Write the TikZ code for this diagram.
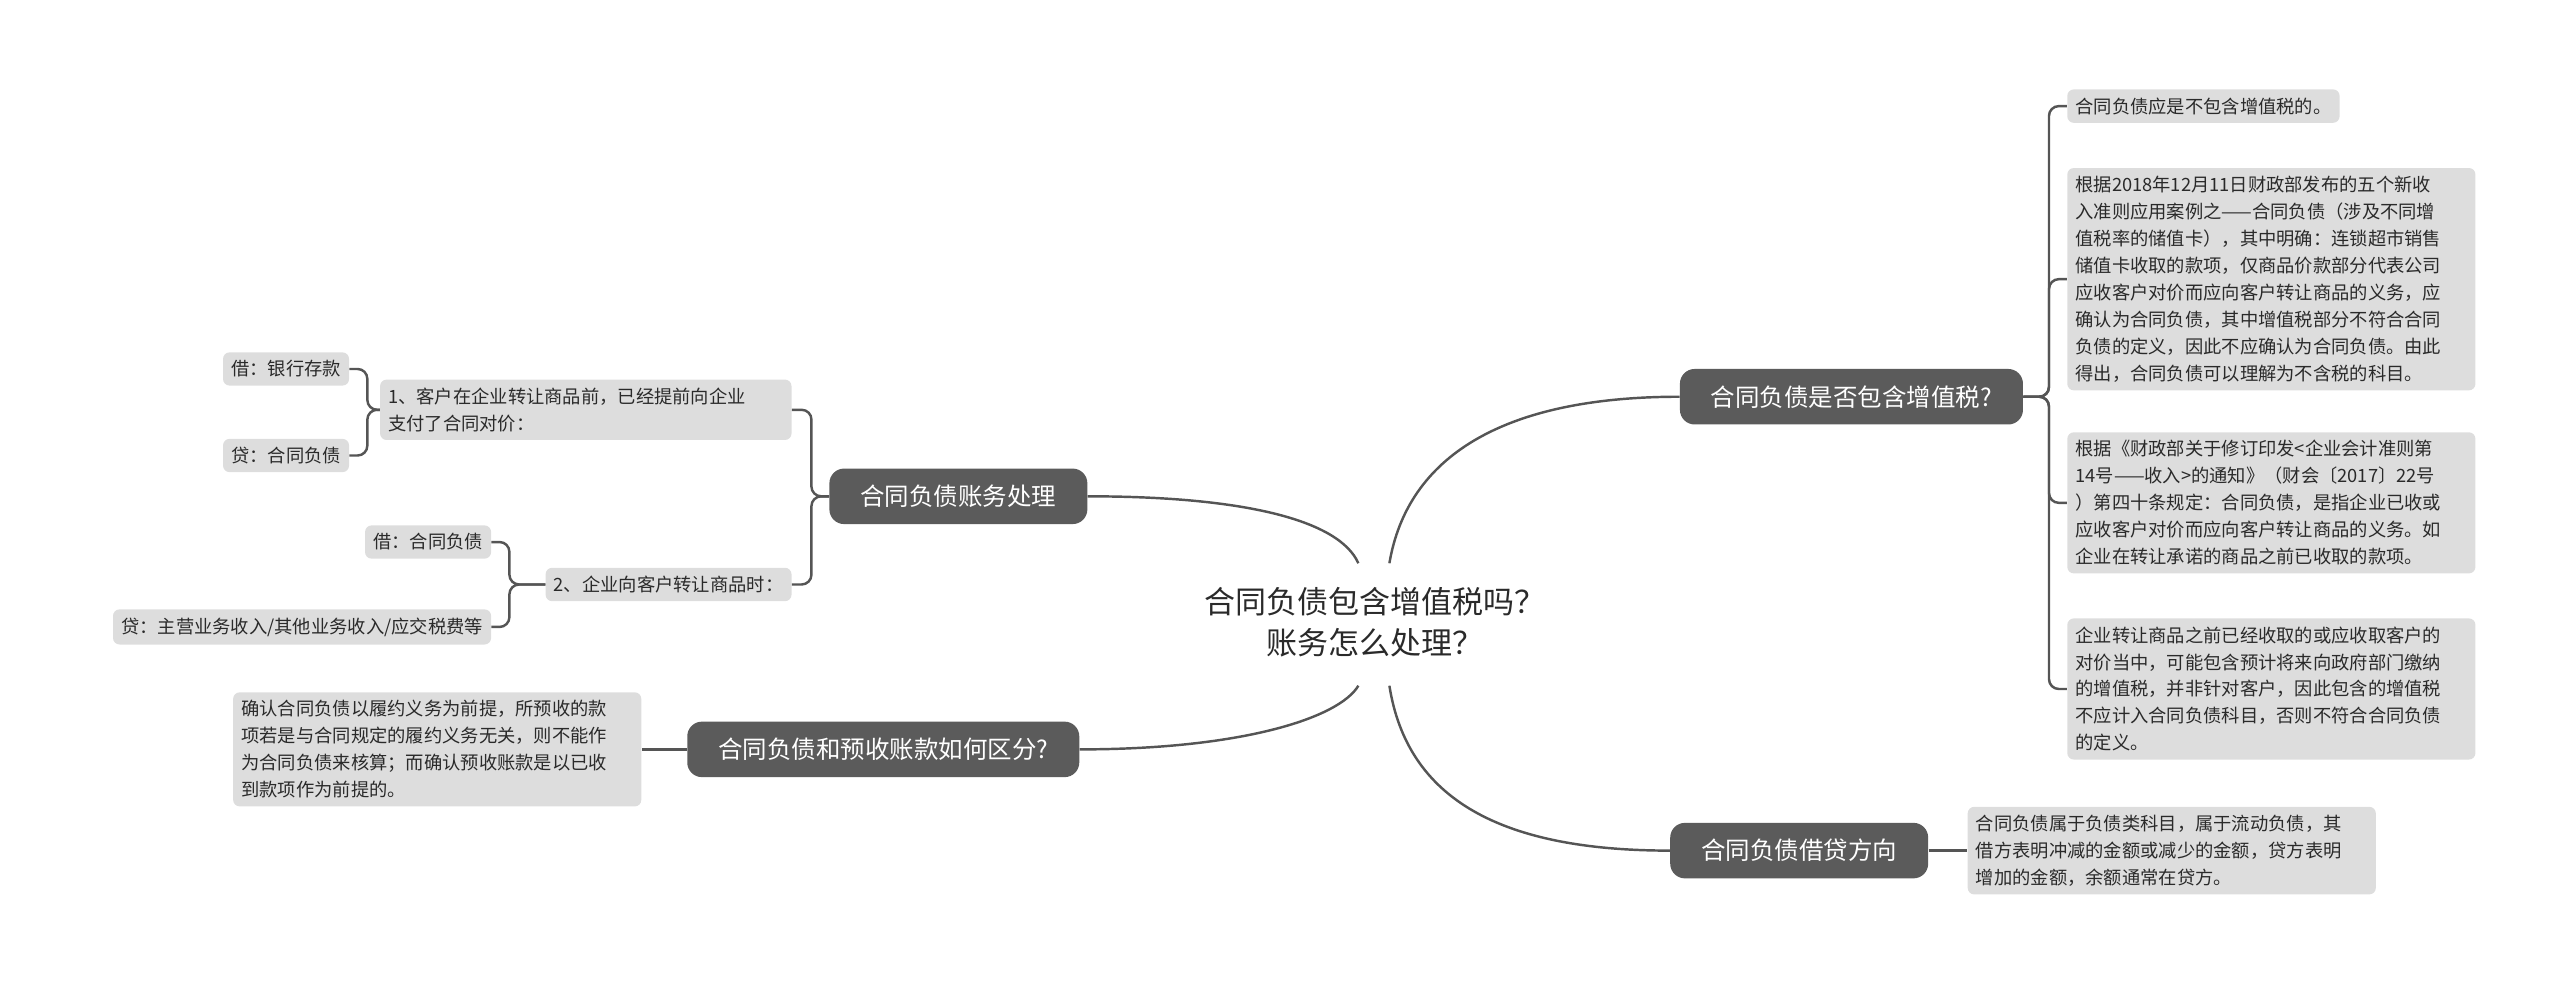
\documentclass[tikz,border=0pt]{standalone}
\usepackage{fontspec}
\setmainfont{Noto Sans CJK SC}
\definecolor{pillgray}{HTML}{5B5B5B}
\definecolor{leafgray}{HTML}{DDDDDD}
\definecolor{linegray}{HTML}{555555}
\definecolor{textgray}{HTML}{2A2A2A}
\tikzset{
  pill/.style={fill=pillgray, text=white, rounded corners=9pt, minimum height=34pt, inner xsep=19pt, font=\fontsize{15}{18}\selectfont},
  leaf/.style={fill=leafgray, text=textgray, rounded corners=4pt, inner xsep=5pt, inner ysep=5pt, align=left, font=\fontsize{11.2}{16.5}\selectfont},
  link/.style={draw=linegray, line width=1.5pt},
  brace/.style={link, rounded corners=6pt}
}
\begin{document}
\begin{tikzpicture}[x=1pt,y=-1pt]
\useasboundingbox (0,0) rectangle (1568,601);

% centre
\node[align=center, text=textgray, font=\fontsize{19}{25}\selectfont] (root) at (842,381) {合同负债包含增值税吗？\\账务怎么处理？};
\coordinate (rNW) at (832,345);
\coordinate (rNE) at (851,345);
\coordinate (rSW) at (832,420);
\coordinate (rSE) at (851,420);

% main branches
\node[pill] (tax) at (1134,243) {合同负债是否包含增值税?};
\node[pill] (dir) at (1102,521) {合同负债借贷方向};
\node[pill] (acc) at (587,304) {合同负债账务处理};
\node[pill] (diff) at (541,459) {合同负债和预收账款如何区分?};

\draw[link] (rNE) .. controls (862,280) and (920,243) .. (tax.west);
\draw[link] (rSE) .. controls (862,490) and (920,521) .. (dir.west);
\draw[link] (rNW) .. controls (820,318) and (760,304) .. (acc.east);
\draw[link] (rSW) .. controls (820,440) and (760,459) .. (diff.east);

% right leaves
\node[leaf, anchor=west] (t1) at (1266,65) {合同负债应是不包含增值税的。};
\node[leaf, anchor=west, text width=240pt] (t2) at (1266,171) {根据2018年12月11日财政部发布的五个新收\\入准则应用案例之——合同负债（涉及不同增\\值税率的储值卡），其中明确：连锁超市销售\\储值卡收取的款项，仅商品价款部分代表公司\\应收客户对价而应向客户转让商品的义务，应\\确认为合同负债，其中增值税部分不符合合同\\负债的定义，因此不应确认为合同负债。由此\\得出，合同负债可以理解为不含税的科目。};
\node[leaf, anchor=west, text width=240pt] (t3) at (1266,308) {根据《财政部关于修订印发<企业会计准则第\\14号——收入>的通知》（财会〔2017〕22号\\）第四十条规定：合同负债，是指企业已收或\\应收客户对价而应向客户转让商品的义务。如\\企业在转让承诺的商品之前已收取的款项。};
\node[leaf, anchor=west, text width=240pt] (t4) at (1266,422) {企业转让商品之前已经收取的或应收取客户的\\对价当中，可能包含预计将来向政府部门缴纳\\的增值税，并非针对客户，因此包含的增值税\\不应计入合同负债科目，否则不符合合同负债\\的定义。};
\foreach \t in {t1,t2,t3,t4}
  \draw[brace] (tax.east) -- (1255,243) |- (\t.west);

\node[leaf, anchor=west, text width=240pt] (d1) at (1205,521) {合同负债属于负债类科目，属于流动负债，其\\借方表明冲减的金额或减少的金额，贷方表明\\增加的金额，余额通常在贷方。};
\draw[link] (dir.east) -- (d1.west);

% left leaves
\node[leaf, anchor=east, text width=242pt] (a1) at (485,251) {1、客户在企业转让商品前，已经提前向企业\\支付了合同对价：};
\node[leaf, anchor=east] (a2) at (485,358) {2、企业向客户转让商品时：};
\foreach \a in {a1,a2}
  \draw[brace] (acc.west) -- (497,304) |- (\a.east);

\node[leaf, anchor=east] (a11) at (214,226) {借：银行存款};
\node[leaf, anchor=east] (a12) at (214,279) {贷：合同负债};
\foreach \a in {a11,a12}
  \draw[brace] (a1.west) -- (225,251) |- (\a.east);

\node[leaf, anchor=east] (a21) at (301,332) {借：合同负债};
\node[leaf, anchor=east] (a22) at (301,384) {贷：主营业务收入/其他业务收入/应交税费等};
\foreach \a in {a21,a22}
  \draw[brace] (a2.west) -- (312,358) |- (\a.east);

\node[leaf, anchor=east, text width=240pt] (f1) at (393,459) {确认合同负债以履约义务为前提，所预收的款\\项若是与合同规定的履约义务无关，则不能作\\为合同负债来核算；而确认预收账款是以已收\\到款项作为前提的。};
\draw[link] (diff.west) -- (f1.east);

\end{tikzpicture}
\end{document}
